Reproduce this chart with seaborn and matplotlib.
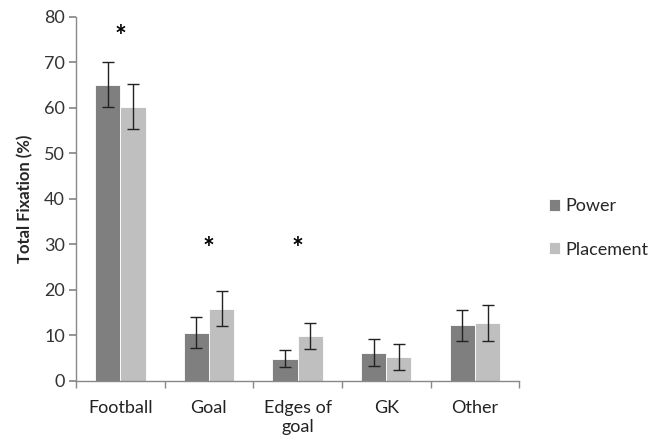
import matplotlib
matplotlib.use("Agg")
import matplotlib.pyplot as plt
import seaborn as sns
import pandas as pd
import numpy as np

categories = ["Football", "Goal", "Edges of\ngoal", "GK", "Other"]
power = [65.1, 10.6, 4.9, 6.2, 12.2]
power_err = [4.9, 3.4, 1.8, 2.9, 3.4]
placement = [60.3, 15.9, 9.9, 5.3, 12.7]
placement_err = [4.9, 3.8, 2.8, 2.8, 3.9]
series = ["Power", "Placement"]
colors = ["#7f7f7f", "#bfbfbf"]
star_cats = ["Football", "Goal", "Edges of\ngoal"]
star_y = [75.5, 29.0, 29.0]

sns.set_theme(style="white")
plt.rcParams['font.family'] = ['Lato', 'DejaVu Sans']

df = pd.DataFrame({
    "cat": categories * 2,
    "val": power + placement,
    "err": power_err + placement_err,
    "series": ["Power"] * len(categories) + ["Placement"] * len(categories),
})

fig = plt.figure(figsize=(6.49, 4.46), dpi=100)
ax = fig.add_axes([0.117, 0.146, 0.683, 0.816])
sns.barplot(data=df, x="cat", y="val", hue="series", order=categories,
            hue_order=series, palette=colors, errorbar=None, width=0.57,
            saturation=1, edgecolor="white", linewidth=0.6, ax=ax)

for cont, errs in zip(ax.containers, [power_err, placement_err]):
    xs = [p.get_x() + p.get_width() / 2 for p in cont]
    ys = [p.get_height() for p in cont]
    ax.errorbar(xs, ys, yerr=errs, fmt="none", ecolor="#222222",
                elinewidth=1.0, capsize=4, capthick=1.0)

for c, y in zip(star_cats, star_y):
    ax.text(categories.index(c), y, "*", ha="center", va="center",
            fontsize=20, fontweight="bold", color="black")

ax.set_ylim(0, 80)
ax.set_xlim(-0.5, len(categories) - 0.5)
ax.set_yticks(np.arange(0, 81, 10))
ax.set_xlabel("")
ax.set_ylabel("Total Fixation (%)", fontsize=12, fontweight="bold", labelpad=8)
for s in ["top", "right"]:
    ax.spines[s].set_visible(False)
for s in ["left", "bottom"]:
    ax.spines[s].set_color("#888888")
    ax.spines[s].set_linewidth(1.0)
ax.tick_params(axis="y", which="major", left=True, length=5, color="#888888",
               labelsize=13, labelcolor="#333333", pad=3)
ax.tick_params(axis="x", which="major", bottom=False, labelsize=13,
               labelcolor="#222222", pad=8)
ax.set_xticks(np.arange(-0.5, len(categories), 1.0), minor=True)
ax.tick_params(axis="x", which="minor", bottom=True, length=5, color="#888888")

ax.legend(loc="center left", bbox_to_anchor=(1.03, 0.42), frameon=False,
          fontsize=13, handlelength=0.6, handleheight=0.6, labelspacing=1.5,
          handletextpad=0.3)

fig.savefig("out.png", dpi=100)
